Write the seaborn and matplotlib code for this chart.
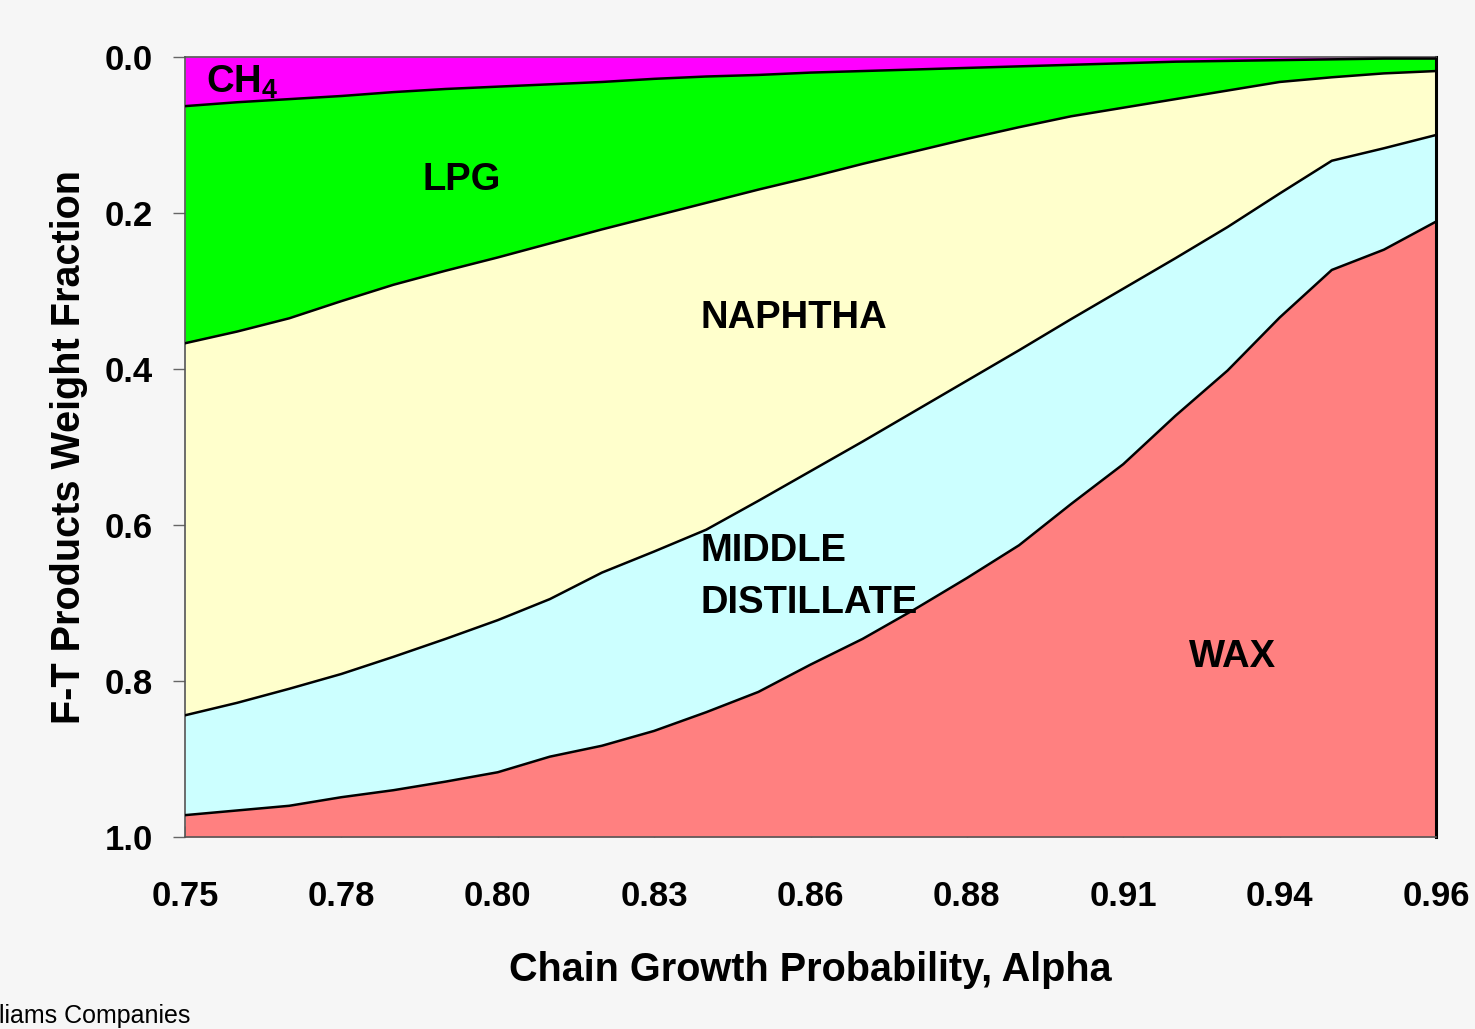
import numpy as np
import pandas as pd
import matplotlib
matplotlib.use('Agg')
import matplotlib.pyplot as plt
import seaborn as sns

# chain growth probability, 25 evenly spaced points (0.75 -> 0.96)
alpha = [0.75 + i * 0.00875 for i in range(25)]

# weight fractions
ch4 = [0.063, 0.058, 0.054, 0.050, 0.045, 0.041, 0.038, 0.035, 0.032, 0.028, 0.025, 0.023, 0.020,
       0.018, 0.016, 0.014, 0.012, 0.010, 0.008, 0.006, 0.005, 0.004, 0.003, 0.002, 0.002]
lpg = [0.304, 0.294, 0.281, 0.263, 0.247, 0.233, 0.219, 0.204, 0.189, 0.176, 0.162, 0.147, 0.134,
       0.119, 0.105, 0.091, 0.078, 0.066, 0.057, 0.048, 0.038, 0.028, 0.023, 0.019, 0.016]
naphtha = [0.477, 0.476, 0.475, 0.478, 0.477, 0.472, 0.465, 0.456, 0.440, 0.430, 0.419, 0.399, 0.377,
           0.356, 0.333, 0.310, 0.286, 0.260, 0.232, 0.204, 0.175, 0.143, 0.107, 0.096, 0.082]
middle = [0.128, 0.138, 0.150, 0.158, 0.171, 0.183, 0.195, 0.202, 0.222, 0.230, 0.234, 0.245, 0.248,
          0.253, 0.254, 0.253, 0.250, 0.237, 0.225, 0.202, 0.184, 0.159, 0.140, 0.130, 0.111]
wax = [0.028, 0.034, 0.040, 0.051, 0.060, 0.071, 0.083, 0.103, 0.117, 0.136, 0.160, 0.186, 0.221,
       0.254, 0.292, 0.332, 0.374, 0.427, 0.478, 0.540, 0.598, 0.666, 0.727, 0.753, 0.789]

products = ['CH4', 'LPG', 'NAPHTHA', 'MIDDLE DISTILLATE', 'WAX']
colors = ['#ff00ff', '#00ff00', '#ffffcc', '#ccffff', '#ff8080']
tick_labels = ['0.75', '0.78', '0.80', '0.83', '0.86', '0.88', '0.91', '0.94', '0.96']

df = pd.DataFrame({'alpha': alpha, 'CH4': ch4, 'LPG': lpg, 'NAPHTHA': naphtha,
                   'MIDDLE DISTILLATE': middle, 'WAX': wax})
cum = df[products].cumsum(axis=1)

sns.set_theme(style='white')
plt.rcParams['font.family'] = ['Liberation Sans', 'DejaVu Sans']
plt.rcParams['text.color'] = 'black'
plt.rcParams['axes.labelcolor'] = 'black'
plt.rcParams['xtick.color'] = 'black'
plt.rcParams['ytick.color'] = 'black'
plt.rcParams['mathtext.fontset'] = 'custom'
plt.rcParams['mathtext.bf'] = 'Liberation Sans:bold'
plt.rcParams['mathtext.rm'] = 'Liberation Sans:bold'

fig = plt.figure(figsize=(14.75, 10.29), dpi=100, facecolor='#f6f6f6')
ax = fig.add_axes([0.1254, 0.1866, 0.8482, 0.758])
ax.set_facecolor('#f6f6f6')

lower = np.zeros(len(df))
for p, c in zip(products, colors):
    upper = cum[p].values
    ax.fill_between(df['alpha'], lower, upper, color=c, linewidth=0, zorder=1)
    lower = upper

# boundary lines between products
for p in products[:-1]:
    sns.lineplot(x=df['alpha'], y=cum[p], color='black', linewidth=1.8, ax=ax, zorder=3)

ax.set_xlim(0.75, 0.96)
ax.set_ylim(1.0, 0.0)
ax.set_xticks(df['alpha'][::3])
ax.set_xticklabels(tick_labels)
ax.set_yticks([0.0, 0.2, 0.4, 0.6, 0.8, 1.0])
ax.set_yticklabels(['0.0', '0.2', '0.4', '0.6', '0.8', '1.0'])
ax.tick_params(axis='y', direction='out', length=9, width=1, color='#666666', left=True,
               labelsize=25, labelcolor='black', pad=14)
ax.tick_params(axis='x', direction='in', length=8, width=1, color='#666666', bottom=True,
               labelsize=25, labelcolor='black', pad=31)
for lab in ax.get_xticklabels() + ax.get_yticklabels():
    lab.set_fontweight('bold')

for s in ['left', 'bottom', 'top']:
    ax.spines[s].set_color('#555555')
    ax.spines[s].set_linewidth(1.2)
ax.spines['right'].set_color('black')
ax.spines['right'].set_linewidth(2.2)

ax.set_xlabel('Chain Growth Probability, Alpha', fontsize=28.5, fontweight='bold', labelpad=27)
ax.set_ylabel('F-T Products Weight Fraction', fontsize=28.5, fontweight='bold', labelpad=12)

lab_kw = dict(fontsize=27.5, fontweight='bold', color='black', zorder=4)
ax.text(0.7535, 0.032, r'$\mathbf{CH_4}$', va='center', ha='left', **lab_kw)
ax.text(0.7965, 0.158, 'LPG', va='center', ha='center', **lab_kw)
ax.text(0.8366, 0.335, 'NAPHTHA', va='center', ha='left', **lab_kw)
ax.text(0.8366, 0.633, 'MIDDLE', va='center', ha='left', **lab_kw)
ax.text(0.8366, 0.700, 'DISTILLATE', va='center', ha='left', **lab_kw)
ax.text(0.9258, 0.769, 'WAX', va='center', ha='center', **lab_kw)

fig.text(-0.001, 0.013, 'liams Companies', fontsize=18, ha='left', va='center', color='black')

plt.savefig('out.png', dpi=100, facecolor=fig.get_facecolor())
plt.close()
